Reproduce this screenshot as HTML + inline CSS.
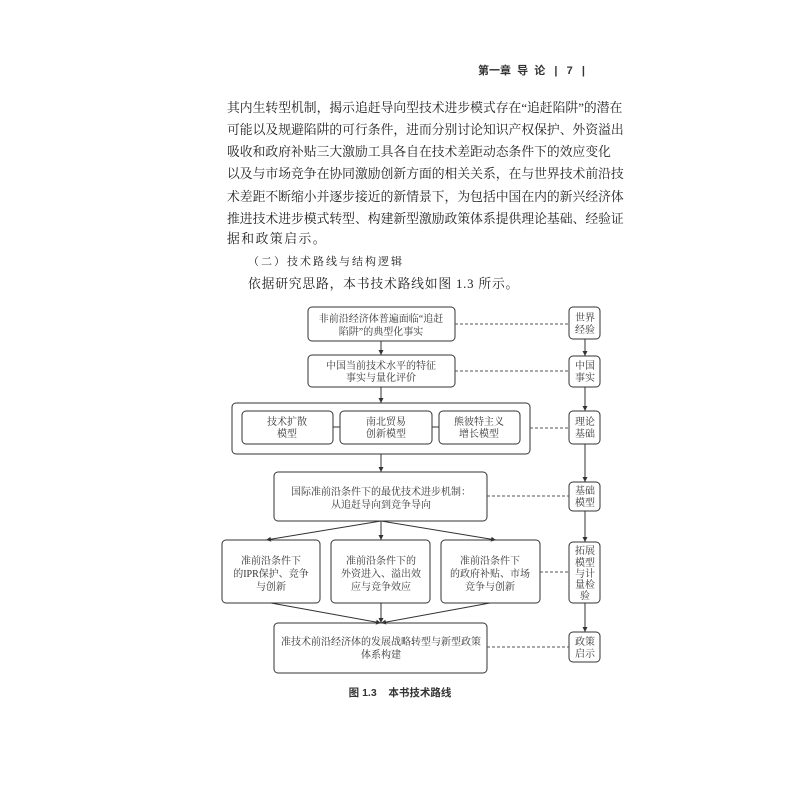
<!DOCTYPE html>
<html><head><meta charset="utf-8"><style>
body{margin:0;background:#fff;}
.pg{position:relative;width:800px;height:800px;overflow:hidden;font-family:"Liberation Serif","Noto Serif CJK SC",serif;color:#222;}
.l{position:absolute;left:227px;width:371px;font-size:12.8px;line-height:16px;white-space:nowrap;text-align:justify;text-align-last:justify;}
svg text{font-family:"Liberation Serif","Noto Serif CJK SC",serif;font-size:10px;fill:#333;text-anchor:middle;}
</style></head><body><div class="pg">
<div style="position:absolute;left:478px;top:62px;font-size:11px;font-family:'Liberation Sans','Noto Sans CJK SC',sans-serif;font-weight:bold;color:#333;white-space:pre">第一章  导  论   |   7   |</div>
<div class="l" style="top:100px">其内生转型机制，揭示追赶导向型技术进步模式存在“追赶陷阱”的潜在</div>
<div class="l" style="top:122px">可能以及规避陷阱的可行条件，进而分别讨论知识产权保护、外资溢出</div>
<div class="l" style="top:144px">吸收和政府补贴三大激励工具各自在技术差距动态条件下的效应变化</div>
<div class="l" style="top:166px">以及与市场竞争在协同激励创新方面的相关关系，在与世界技术前沿技</div>
<div class="l" style="top:189px">术差距不断缩小并逐步接近的新情景下，为包括中国在内的新兴经济体</div>
<div class="l" style="top:211px">推进技术进步模式转型、构建新型激励政策体系提供理论基础、经验证</div>
<div style="position:absolute;left:227px;top:231px;font-size:12.8px;line-height:16px;letter-spacing:1.5px;">据和政策启示。</div>
<div style="position:absolute;left:248px;top:254px;font-size:11px;line-height:16px;letter-spacing:2px;">（二）技术路线与结构逻辑</div>
<div style="position:absolute;left:248px;top:276px;font-size:12.8px;line-height:16px;letter-spacing:0.8px;">依据研究思路，本书技术路线如图 1.3 所示。</div>
<svg width="800" height="800" style="position:absolute;left:0;top:0" viewBox="0 0 800 800">
<defs><marker id="a" markerWidth="6" markerHeight="6" refX="5" refY="3" orient="auto"><path d="M0,0.5 L5,3 L0,5.5z" fill="#333"/></marker></defs>
<g fill="none" stroke="#333" stroke-width="1">
<rect x="308" y="307" width="147" height="34" rx="4"/>
<rect x="308" y="355" width="147" height="32" rx="4"/>
<rect x="232" y="403" width="298" height="51" rx="4"/>
<rect x="242" y="411" width="91" height="33" rx="4"/>
<rect x="340" y="411" width="92" height="33" rx="4"/>
<rect x="439" y="411" width="81" height="33" rx="4"/>
<line x1="333" y1="427" x2="340" y2="427"/><line x1="432" y1="427" x2="439" y2="427"/>
<rect x="274" y="472" width="213" height="49" rx="4"/>
<rect x="222" y="540" width="98" height="63" rx="4"/>
<rect x="331" y="540" width="99" height="63" rx="4"/>
<rect x="441" y="540" width="99" height="63" rx="4"/>
<rect x="274" y="623" width="213" height="50" rx="4"/>
<rect x="569" y="307" width="31" height="32" rx="4"/>
<rect x="569" y="356" width="31" height="31" rx="4"/>
<rect x="569" y="411" width="31" height="33" rx="4"/>
<rect x="569" y="482" width="31" height="29" rx="4"/>
<rect x="569" y="542" width="31" height="61" rx="4"/>
<rect x="569" y="632" width="31" height="30" rx="4"/>
<g stroke-dasharray="3,2" stroke="#555">
<line x1="455" y1="324" x2="569" y2="324"/><line x1="455" y1="371" x2="569" y2="371"/>
<line x1="530" y1="428" x2="569" y2="428"/><line x1="487" y1="496" x2="569" y2="496"/>
<line x1="540" y1="572" x2="569" y2="572"/><line x1="487" y1="647" x2="569" y2="647"/>
</g>
<g marker-end="url(#a)">
<line x1="381" y1="341" x2="381" y2="355"/><line x1="381" y1="387" x2="381" y2="403"/>
<line x1="381" y1="454" x2="381" y2="472"/>
<line x1="381" y1="521" x2="266" y2="540"/><line x1="381" y1="521" x2="381" y2="540"/><line x1="381" y1="521" x2="496" y2="540"/>
<line x1="271" y1="603" x2="381" y2="623"/><line x1="381" y1="603" x2="381" y2="623"/><line x1="490" y1="603" x2="381" y2="623"/>
<line x1="585" y1="339" x2="585" y2="356"/><line x1="585" y1="387" x2="585" y2="411"/>
<line x1="585" y1="444" x2="585" y2="482"/><line x1="585" y1="511" x2="585" y2="542"/>
<line x1="585" y1="603" x2="585" y2="632"/>
</g></g>
<text x="381" y="322">非前沿经济体普遍面临“追赶</text><text x="381" y="335">陷阱”的典型化事实</text>
<text x="381" y="369">中国当前技术水平的特征</text><text x="381" y="381">事实与量化评价</text>
<text x="287" y="425">技术扩散</text><text x="287" y="437">模型</text>
<text x="386" y="425">南北贸易</text><text x="386" y="437">创新模型</text>
<text x="479" y="425">熊彼特主义</text><text x="479" y="437">增长模型</text>
<text x="381" y="495">国际准前沿条件下的最优技术进步机制：</text><text x="381" y="508">从追赶导向到竞争导向</text>
<text x="271" y="564">准前沿条件下</text><text x="271" y="577">的IPR保护、竞争</text><text x="271" y="590">与创新</text>
<text x="381" y="564">准前沿条件下的</text><text x="381" y="577">外资进入、溢出效</text><text x="381" y="590">应与竞争效应</text>
<text x="490" y="564">准前沿条件下</text><text x="490" y="577">的政府补贴、市场</text><text x="490" y="590">竞争与创新</text>
<text x="381" y="645">准技术前沿经济体的发展战略转型与新型政策</text><text x="381" y="658">体系构建</text>
<text x="585" y="321">世界</text><text x="585" y="333">经验</text>
<text x="585" y="369">中国</text><text x="585" y="381">事实</text>
<text x="585" y="425">理论</text><text x="585" y="437">基础</text>
<text x="585" y="494">基础</text><text x="585" y="506">模型</text>
<text x="585" y="554">拓展</text><text x="585" y="566">模型</text><text x="585" y="577">与计</text><text x="585" y="588">量检</text><text x="585" y="599">验</text>
<text x="585" y="645">政策</text><text x="585" y="657">启示</text>
<text x="400" y="696" style="font-weight:bold;font-size:10.5px;font-family:'Liberation Sans','Noto Sans CJK SC',sans-serif;white-space:pre" xml:space="preserve">图 1.3    本书技术路线</text>
</svg>
</div></body></html>
